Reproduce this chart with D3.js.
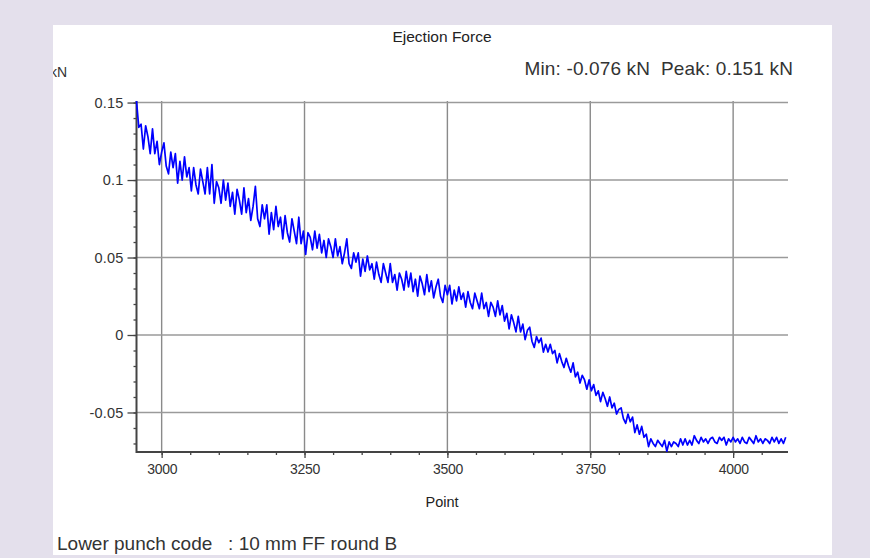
<!DOCTYPE html>
<html>
<head>
<meta charset="utf-8">
<script src="https://cdn.jsdelivr.net/npm/d3@7"></script>
<style>
  body { margin: 0; background: #e4e0ec; }
  text { font-family: "Liberation Sans", Arial, sans-serif; }
</style>
</head>
<body>
<div id="vis1"></div>
<script>
// data (one value every 4 points)
const POINT_START = 2956
const POINT_STEP = 4
const force = [
  0.151, 0.134, 0.136, 0.120, 0.135, 0.128, 0.117, 0.133, 0.117, 0.125, 0.110, 0.118, 0.124, 0.109, 0.104, 0.118, 0.108, 0.117, 0.098, 0.112,
  0.100, 0.115, 0.102, 0.108, 0.093, 0.108, 0.097, 0.091, 0.107, 0.099, 0.091, 0.108, 0.091, 0.110, 0.085, 0.099, 0.095, 0.085, 0.100, 0.087,
  0.098, 0.083, 0.092, 0.078, 0.094, 0.087, 0.078, 0.095, 0.079, 0.088, 0.074, 0.083, 0.096, 0.075, 0.070, 0.084, 0.075, 0.084, 0.065, 0.079,
  0.068, 0.083, 0.070, 0.076, 0.062, 0.077, 0.066, 0.060, 0.075, 0.067, 0.059, 0.076, 0.059, 0.067, 0.052, 0.066, 0.063, 0.055, 0.067, 0.056,
  0.065, 0.053, 0.061, 0.050, 0.062, 0.057, 0.050, 0.062, 0.051, 0.057, 0.046, 0.053, 0.062, 0.046, 0.043, 0.053, 0.047, 0.053, 0.038, 0.049,
  0.041, 0.051, 0.042, 0.046, 0.036, 0.047, 0.039, 0.034, 0.046, 0.040, 0.034, 0.046, 0.034, 0.039, 0.029, 0.040, 0.036, 0.029, 0.041, 0.031,
  0.040, 0.028, 0.036, 0.025, 0.038, 0.033, 0.026, 0.039, 0.028, 0.035, 0.024, 0.031, 0.036, 0.025, 0.021, 0.032, 0.026, 0.032, 0.020, 0.029,
  0.022, 0.031, 0.023, 0.027, 0.018, 0.028, 0.021, 0.017, 0.027, 0.022, 0.017, 0.027, 0.017, 0.021, 0.012, 0.021, 0.018, 0.012, 0.022, 0.013,
  0.019, 0.009, 0.014, 0.004, 0.013, 0.008, 0.002, 0.012, 0.002, 0.007, -0.003, 0.003, 0.005, -0.004, -0.008, -0.001, -0.005, -0.002, -0.011, -0.006,
  -0.011, -0.006, -0.012, -0.010, -0.018, -0.012, -0.017, -0.021, -0.015, -0.020, -0.024, -0.018, -0.027, -0.024, -0.031, -0.026, -0.029, -0.035, -0.029, -0.036,
  -0.032, -0.039, -0.036, -0.043, -0.037, -0.041, -0.046, -0.040, -0.047, -0.044, -0.051, -0.048, -0.047, -0.054, -0.057, -0.051, -0.056, -0.053, -0.063, -0.058,
  -0.064, -0.059, -0.066, -0.064, -0.072, -0.067, -0.070, -0.072, -0.068, -0.070, -0.072, -0.068, -0.075, -0.069, -0.072, -0.069, -0.070, -0.072, -0.067, -0.071,
  -0.067, -0.071, -0.068, -0.071, -0.065, -0.068, -0.070, -0.066, -0.069, -0.067, -0.070, -0.067, -0.066, -0.069, -0.070, -0.066, -0.068, -0.066, -0.071, -0.067,
  -0.069, -0.066, -0.069, -0.067, -0.070, -0.066, -0.069, -0.070, -0.066, -0.068, -0.070, -0.065, -0.069, -0.067, -0.070, -0.067, -0.068, -0.070, -0.066, -0.069,
  -0.066, -0.070, -0.067, -0.070, -0.066
]
const xTicks = [3000, 3250, 3500, 3750, 4000]
const yTicks = [-0.05, 0, 0.05, 0.1, 0.15]
const yTickLabels = ["-0.05", "0", "0.05", "0.1", "0.15"]
const TITLE = "Ejection Force"
const SUMMARY = "Min: -0.076 kN  Peak: 0.151 kN"
const FOOTER = "Lower punch code   : 10 mm FF round B"

// frame constants
const FRAME_WIDTH = 870
const FRAME_HEIGHT = 558
const PANEL = {x: 53, y: 25, w: 779, h: 530}
const PLOT = {left: 136.5, right: 788, top: 101, bottom: 452}

const FRAME1 = d3.select('#vis1')
                  .append('svg')
                  .attr('width', FRAME_WIDTH)
                  .attr('height', FRAME_HEIGHT)

FRAME1.append("clipPath").attr("id", "panelClip")
    .append("rect")
    .attr("x", PANEL.x).attr("y", PANEL.y)
    .attr("width", PANEL.w).attr("height", PANEL.h)

// white panel
FRAME1.append("rect")
    .attr("x", PANEL.x).attr("y", PANEL.y)
    .attr("width", PANEL.w).attr("height", PANEL.h)
    .attr("fill", "white")

const x = d3.scaleLinear()
            .domain([2956, 4096])
            .range([PLOT.left, PLOT.right])

const y = d3.scaleLinear()
            .domain([-0.0755, 0.151])
            .range([PLOT.bottom, PLOT.top])

// grid lines
FRAME1.append("g")
    .selectAll("line")
    .data(xTicks)
    .enter()
    .append("line")
      .attr("x1", d => x(d)).attr("x2", d => x(d))
      .attr("y1", PLOT.top).attr("y2", PLOT.bottom)
      .attr("stroke", "#8a8a8a")
      .attr("stroke-width", 1.4)

FRAME1.append("g")
    .selectAll("line")
    .data(yTicks)
    .enter()
    .append("line")
      .attr("x1", PLOT.left).attr("x2", PLOT.right)
      .attr("y1", d => y(d)).attr("y2", d => y(d))
      .attr("stroke", "#9a9a9a")
      .attr("stroke-width", 1.4)

// y axis with minor ticks
FRAME1.append("g")
    .attr("transform", "translate(" + PLOT.left + ",0)")
    .call(d3.axisLeft(y).tickValues(d3.range(-7, 16).map(v => v / 100)).tickSize(3).tickFormat(""))
    .call(g => g.select(".domain").remove())
    .selectAll("line").attr("stroke", "#444").attr("stroke-width", 1.3)

FRAME1.append("g")
    .attr("transform", "translate(" + PLOT.left + ",0)")
    .call(d3.axisLeft(y).tickValues(yTicks).tickSize(9).tickPadding(4)
             .tickFormat((d, i) => yTickLabels[i]))
    .call(g => g.select(".domain").remove())
    .call(g => g.selectAll("line").attr("stroke", "#444").attr("stroke-width", 1.3))
    .call(g => g.selectAll("text")
                .attr("font-size", "14.5px")
                .attr("letter-spacing", "0.2px")
                .attr("fill", "#333"))

// x axis with minor ticks
FRAME1.append("g")
    .attr("transform", "translate(0," + PLOT.bottom + ")")
    .call(d3.axisBottom(x).tickValues(d3.range(2950, 4100, 50).filter(v => v >= 2956)).tickSize(3).tickFormat(""))
    .call(g => g.select(".domain").remove())
    .selectAll("line").attr("stroke", "#444").attr("stroke-width", 1.3)

FRAME1.append("g")
    .attr("transform", "translate(0," + PLOT.bottom + ")")
    .call(d3.axisBottom(x).tickValues(xTicks).tickSize(6).tickPadding(6).tickFormat(d3.format("d")))
    .call(g => g.select(".domain").remove())
    .call(g => g.selectAll("line").attr("stroke", "#444").attr("stroke-width", 1.3))
    .call(g => g.selectAll("text")
                .attr("font-size", "14px")
                .attr("letter-spacing", "-0.3px")
                .attr("fill", "#333"))

// axis lines
FRAME1.append("line")
    .attr("x1", PLOT.left).attr("x2", PLOT.left)
    .attr("y1", PLOT.top).attr("y2", PLOT.bottom + 1)
    .attr("stroke", "#444").attr("stroke-width", 2)
FRAME1.append("line")
    .attr("x1", PLOT.left).attr("x2", PLOT.right)
    .attr("y1", PLOT.bottom).attr("y2", PLOT.bottom)
    .attr("stroke", "#444").attr("stroke-width", 2)

// force line
const line = d3.line()
    .x((d, i) => x(POINT_START + i * POINT_STEP))
    .y(d => y(d))

FRAME1.append("path")
    .datum(force)
    .attr("d", line)
    .attr("fill", "none")
    .attr("stroke", "#0000ff")
    .attr("stroke-width", 1.7)
    .attr("stroke-linejoin", "round")

// texts
FRAME1.append("text")
    .attr("x", 442).attr("y", 42)
    .attr("text-anchor", "middle")
    .attr("font-size", "15.5px")
    .attr("fill", "#222")
    .text(TITLE)

FRAME1.append("text")
    .attr("x", 793).attr("y", 75)
    .attr("text-anchor", "end")
    .attr("font-size", "19px")
    .attr("letter-spacing", "0.15px")
    .attr("fill", "#333")
    .style("white-space", "pre")
    .text(SUMMARY)

FRAME1.append("text")
    .attr("clip-path", "url(#panelClip)")
    .attr("x", 50).attr("y", 77)
    .attr("font-size", "14px")
    .attr("fill", "#333")
    .text("kN")

FRAME1.append("text")
    .attr("x", 442).attr("y", 507)
    .attr("text-anchor", "middle")
    .attr("font-size", "14.5px")
    .attr("fill", "#222")
    .text("Point")

FRAME1.append("text")
    .attr("x", 57).attr("y", 550)
    .attr("font-size", "19px")
    .attr("fill", "#333")
    .style("white-space", "pre")
    .text(FOOTER)
</script>
</body>
</html>
